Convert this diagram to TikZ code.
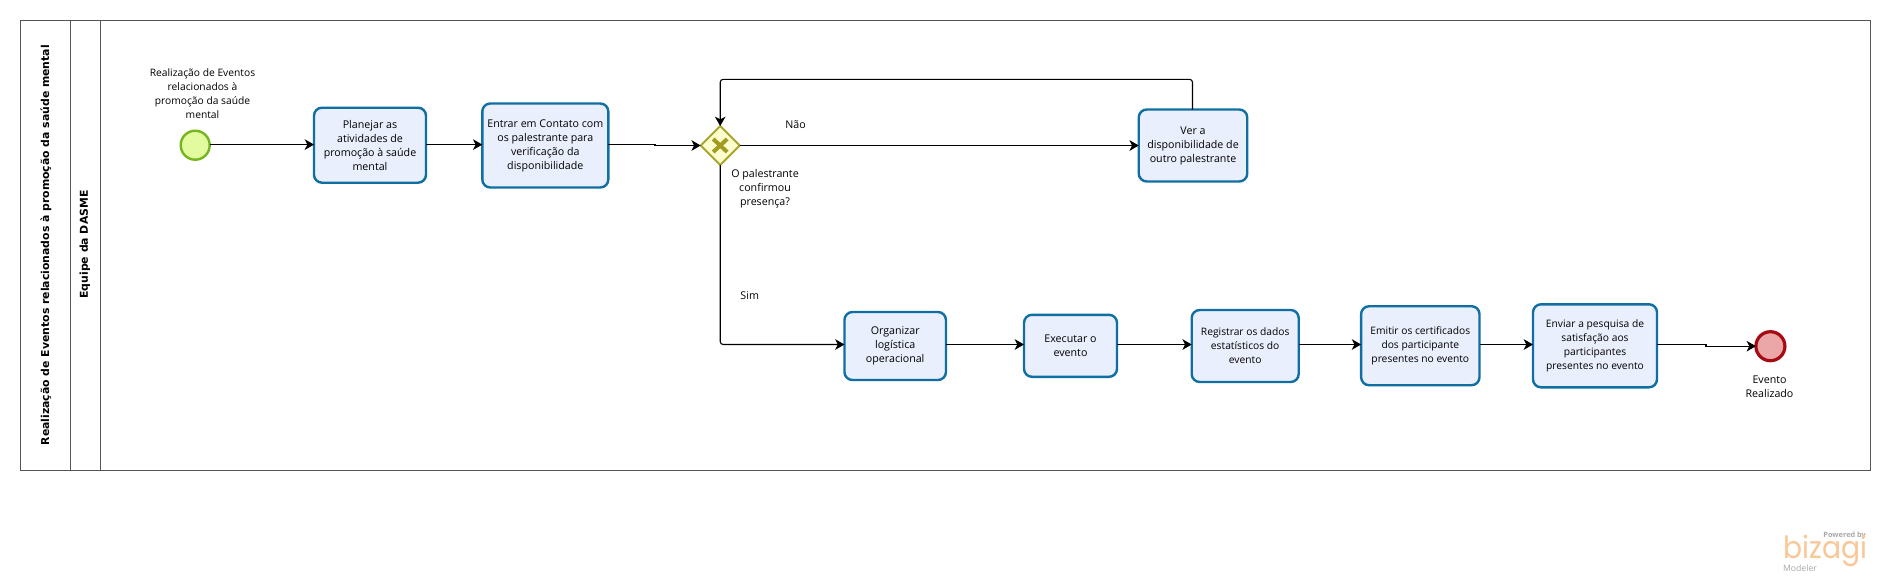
\documentclass[tikz,border=0pt]{standalone}
\usepackage{fontspec}
\setmainfont{Open Sans}
\newfontfamily\titlefont{DejaVu Sans}
\newfontfamily\logofont{Poppins}
\usetikzlibrary{arrows.meta,shapes.geometric}
\newdimen\px \px=0.75pt
\definecolor{taskline}{HTML}{0F6FA3}
\definecolor{taskfill}{HTML}{EAEFFD}
\definecolor{frameline}{HTML}{555555}
\definecolor{startline}{HTML}{76B51F}
\definecolor{startfill}{HTML}{E3FB9F}
\definecolor{gateline}{HTML}{A8A52D}
\definecolor{gatefill}{HTML}{FDFDCD}
\definecolor{gatemark}{HTML}{A09C20}
\definecolor{endline}{HTML}{A60A12}
\definecolor{endfill}{HTML}{EBA6A8}
\definecolor{logoorange}{HTML}{F9C796}
\definecolor{logogray}{HTML}{A8A8A8}
\tikzset{
  x=0.75pt,y=-0.75pt,
  txt/.style={font=\fontsize{8}{10.5}\selectfont,align=center,inner sep=0pt,outer sep=0pt,text=black},
  smalltxt/.style={font=\fontsize{7.7}{10.5}\selectfont},
  taskbox/.style={txt,draw=taskline,fill=taskfill,line width=2.4\px,rounded corners=8\px,outer sep=0pt},
  startev/.style={circle,draw=startline,fill=startfill,line width=2.4\px,minimum size=29\px,inner sep=0pt,outer sep=0pt},
  endev/.style={circle,draw=endline,fill=endfill,line width=3.2\px,minimum size=29\px,inner sep=0pt,outer sep=0pt},
  gate/.style={diamond,draw=gateline,fill=gatefill,line width=2\px,minimum width=39\px,minimum height=39\px,inner sep=0pt,outer sep=0pt,aspect=1},
  flow/.style={draw=black,line width=1.1\px,-{Stealth[length=7pt,width=8pt,inset=2pt]}},
  swim/.style={draw=frameline,line width=1.2\px},
  titletxt/.style={font=\titlefont\bfseries\fontsize{8.15}{10}\selectfont,rotate=90,inner sep=0pt,text=black},
}
\begin{document}
\begin{tikzpicture}
\useasboundingbox (0,0) rectangle (1890,583);
% swimlanes
\draw[swim] (20.5,20.3) rectangle (1870.7,470.8);
\draw[swim] (70.3,20.3) -- (70.3,470.8);
\draw[swim] (100.4,20.3) -- (100.4,470.8);
\node[titletxt] (pooltitle) at (46,245.2) {Realização de Eventos relacionados à promoção da saúde mental};
\node[titletxt] (lanetitle) at (85,244.5) {Equipe da DASME};
% row helpers
\coordinate (rowa) at (0,144.6);
\coordinate (rowb) at (0,344.5);
% events and tasks
\node[startev] (start) at (195.2,145.2) {};
\node[taskbox,minimum width=112\px,minimum height=75\px] (t1) at (370,145.2) {Planejar as\\atividades de\\promoção à saúde\\mental};
\node[taskbox,minimum width=126\px,minimum height=84\px] (t2) at (545.3,145.5) {Entrar em Contato com\\os palestrante para\\verificação da\\disponibilidade};
\node[gate] (gw) at (720.2,145.5) {};
\draw[gatemark,line width=4\px] ([shift={(-7,-6.5)}]gw.center) -- ([shift={(7,6.5)}]gw.center);
\draw[gatemark,line width=4\px] ([shift={(7,-6.5)}]gw.center) -- ([shift={(-7,6.5)}]gw.center);
\node[taskbox,minimum width=108.5\px,minimum height=72\px] (ver) at (1193,145.5) {Ver a\\disponibilidade de\\outro palestrante};
\node[taskbox,minimum width=101.5\px,minimum height=68\px] (org) at (895.2,346) {Organizar\\logística\\operacional};
\node[taskbox,minimum width=93\px,minimum height=62\px] (exe) at (1070.5,345.8) {Executar o\\evento};
\node[taskbox,smalltxt,minimum width=107\px,minimum height=72\px] (reg) at (1245.2,346) {Registrar os dados\\estatísticos do\\evento};
\node[taskbox,smalltxt,minimum width=118.4\px,minimum height=79\px] (emi) at (1420.3,345.7) {Emitir os certificados\\dos participante\\presentes no evento};
\node[taskbox,smalltxt,minimum width=124\px,minimum height=83\px] (env) at (1595,345.8) {Enviar a pesquisa de\\satisfação aos\\participantes\\presentes no evento};
\node[endev] (finish) at (1770.4,346.2) {};
% free labels
\node[txt,smalltxt] (lstart) at (202.5,94) {Realização de Eventos\\relacionados à\\promoção da saúde\\mental};
\node[txt] (lnao) at (795.5,125) {Não};
\node[txt] (lq) at (765,188.8) {O palestrante\\confirmou\\presença?};
\node[txt] (lsim) at (749.7,296) {Sim};
\node[txt] (lend) at (1769.5,387) {Evento\\Realizado};
% connectors
\coordinate (j1) at (655,144.5);
\coordinate (j2) at (1706,344.5);
\coordinate (looptr) at (1192.5,79.3);
\coordinate (looptl) at (720.2,79.3);
\coordinate (simc) at (720.2,344.5);
\draw[flow] (start.east |- rowa) -- (t1.west |- rowa);
\draw[flow] (t1.east |- rowa) -- (t2.west |- rowa);
\draw[flow] (t2.east |- j1) -- (j1) -- (j1 |- gw.west) -- (gw.west);
\draw[flow] (gw.east) -- (ver.west);
\draw[flow,rounded corners=3\px] (ver.north -| looptr) -- (looptr) -- (looptl) -- (gw.north);
\draw[flow,rounded corners=3\px] (gw.south) -- (simc) -- (org.west |- rowb);
\draw[flow] (org.east |- rowb) -- (exe.west |- rowb);
\draw[flow] (exe.east |- rowb) -- (reg.west |- rowb);
\draw[flow] (reg.east |- rowb) -- (emi.west |- rowb);
\draw[flow] (emi.east |- rowb) -- (env.west |- rowb);
\draw[flow] (env.east |- j2) -- (j2) -- (j2 |- finish.west) -- (finish.west);
% logo
\node[font=\fontsize{5.5}{7}\selectfont\bfseries,text=logogray,inner sep=0pt] (lgp) at (1844.6,535.3) {Powered by};
\node[font=\logofont\fontsize{23}{23}\selectfont,text=logoorange,inner sep=0pt,xscale=.92] (lgb) at (1825.5,551) {bizagi};
\node[font=\fontsize{6.5}{7}\selectfont,text=logogray,inner sep=0pt] (lgm) at (1800,568.5) {Modeler};
\end{tikzpicture}
\end{document}
